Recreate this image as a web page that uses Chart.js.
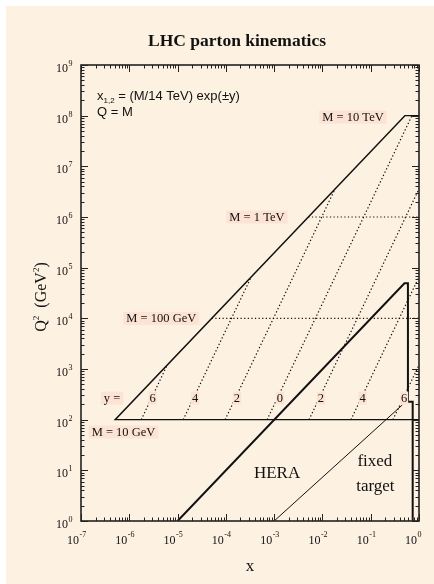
<!DOCTYPE html>
<html>
<head>
<meta charset="utf-8">
<script src="https://cdn.jsdelivr.net/npm/chart.js@4.4.0/dist/chart.umd.min.js"></script>
<style>
  html, body { margin: 0; padding: 0; background: #fff; }
  canvas { display: block; }
</style>
</head>
<body>
<canvas id="kin" width="434" height="584"></canvas>
<script>
// tick decades
const xTickExps = [-7, -6, -5, -4, -3, -2, -1, 0];
const yTickExps = [0, 1, 2, 3, 4, 5, 6, 7, 8, 9];

// LHC region outline (x, Q^2)
const lhcEdgeX  = [1, 5.1e-7, 0.51, 1];
const lhcEdgeQ2 = [100, 100, 1e8, 1e8];

// lines of constant rapidity y, all start at Q^2 = 100
const rapidityNames  = ['6', '4', '2', '0', '2', '4', '6'];
const rapidityStartX = [1.77e-6, 1.31e-5, 9.66e-5, 7.14e-4, 5.28e-3, 0.039, 0.288];
const rapidityEndX   = [6.1e-6, 3.35e-4, 0.0183, 0.714, 1, 1, 1];
const rapidityEndQ2  = [1.2e3, 6.57e4, 3.59e6, 1e8, 3.59e6, 6.57e4, 1.2e3];

// M = 100 GeV and M = 1 TeV levels
const massLevelQ2     = [1e4, 1e6];
const massLevelStartX = [5.1e-5, 5.1e-3];

// HERA region outline
const heraX  = [1e-5, 0.5, 0.59, 0.59, 0.74, 0.74];
const heraQ2 = [1, 4.9e4, 4.9e4, 225, 225, 1];

// fixed target edge
const fixedX  = [1e-3, 0.45];
const fixedQ2 = [1, 195];

const cream = '#fdf1e1';
const pink = '#fce3d4';
const ink = '#111';
const serif = '"Liberation Serif", "Times New Roman", serif';
const sans = '"Liberation Sans", Arial, sans-serif';

const pts = (xs, qs) => xs.map((x, i) => ({ x: x, y: qs[i] }));

const datasets = [];
datasets.push({ data: pts(lhcEdgeX, lhcEdgeQ2), borderColor: ink, borderWidth: 1.4 });
rapidityStartX.forEach((x0, i) => {
  datasets.push({
    data: pts([x0, rapidityEndX[i]], [100, rapidityEndQ2[i]]),
    borderColor: ink, borderWidth: 1.2, borderDash: [1.2, 2.4]
  });
});
massLevelQ2.forEach((q, i) => {
  datasets.push({
    data: pts([massLevelStartX[i], 1], [q, q]),
    borderColor: ink, borderWidth: 1.2, borderDash: [1.2, 2.4]
  });
});
datasets.push({ data: pts(heraX, heraQ2), borderColor: ink, borderWidth: 2 });
datasets.push({ data: pts(fixedX, fixedQ2), borderColor: ink, borderWidth: 1 });
datasets.forEach(d => { d.showLine = true; d.pointRadius = 0; d.fill = false; });

// labels placed in data coordinates
const notes = [
  { text: 'M = 10 TeV', x: 0.043, q: 9.4e7, pad: 3 },
  { text: 'M = 1 TeV', x: 4.4e-4, q: 1e6, pad: 3 },
  { text: 'M = 100 GeV', x: 4.6e-6, q: 1e4, pad: 3 },
  { text: 'M = 10 GeV', x: 7.6e-7, q: 57, pad: 3 },
  { text: 'y =', x: 4.4e-7, q: 267, pad: 3 },
  { text: 'HERA', x: 1.15e-3, q: 8.9, size: 17 },
  { text: 'fixed', x: 0.122, q: 15.3, size: 17 },
  { text: 'target', x: 0.125, q: 4.9, size: 17 }
];
const rapidityLabelX = [3.05e-6, 2.3e-5, 1.7e-4, 1.32e-3, 9.3e-3, 0.068, 0.49];
rapidityNames.forEach((t, i) => notes.push({ text: t, x: rapidityLabelX[i], q: 267, pad: 1 }));

function pow10(c, exp, x, y, base, sup, dy) {
  c.font = base + 'px ' + serif;
  c.textAlign = 'right';
  c.fillText('10', x, y);
  c.font = sup + 'px ' + serif;
  c.textAlign = 'left';
  c.fillText(exp, x + 0.5, y - dy);
}

const paper = {
  id: 'paper',
  beforeDraw(chart) {
    const c = chart.ctx;
    c.save();
    c.fillStyle = '#fff';
    c.fillRect(0, 0, chart.width, chart.height);
    c.fillStyle = cream;
    c.fillRect(6, 6, chart.width - 6, chart.height - 6);
    c.restore();
  },
  afterDatasetsDraw(chart) {
    const c = chart.ctx, a = chart.chartArea;
    const sx = chart.scales.x, sy = chart.scales.y;
    c.save();
    c.fillStyle = ink;
    c.strokeStyle = '#222';
    c.lineWidth = 1;
    c.textBaseline = 'alphabetic';

    // label boxes and texts
    notes.forEach(n => {
      const px = sx.getPixelForValue(n.x), py = sy.getPixelForValue(n.q);
      const size = n.size || 12.5;
      c.font = size + 'px ' + serif;
      const w = c.measureText(n.text).width;
      if (n.pad !== undefined) {
        c.fillStyle = pink;
        c.fillRect(px - w / 2 - n.pad, py - 6.5, w + 2 * n.pad, 13);
      }
      c.fillStyle = ink;
      c.textAlign = 'center';
      c.textBaseline = 'middle';
      c.fillText(n.text, px, py + 0.5);
    });
    c.textBaseline = 'alphabetic';

    // formula
    c.font = '13px ' + sans;
    c.textAlign = 'left';
    let fx = a.left + 16;
    c.fillText('x', fx, 100);
    fx += c.measureText('x').width;
    c.font = '8px ' + sans;
    c.fillText('1,2', fx, 103);
    fx += c.measureText('1,2').width;
    c.font = '13px ' + sans;
    c.fillText(' = (M/14 TeV) exp(\u00b1y)', fx, 100);
    c.fillText('Q = M', a.left + 16, 116);

    // frame
    c.lineWidth = 1.6;
    c.strokeRect(a.left, a.top, a.right - a.left, a.bottom - a.top);

    // tick marks, inward on all sides
    c.lineWidth = 1;
    c.beginPath();
    xTickExps.forEach(e => {
      for (let k = 1; k <= 9; k++) {
        const v = k * Math.pow(10, e);
        if (v > 1.0001) break;
        const px = Math.round(sx.getPixelForValue(v)) + 0.5;
        const len = k === 1 ? 7 : 3.5;
        c.moveTo(px, a.bottom); c.lineTo(px, a.bottom - len);
        c.moveTo(px, a.top); c.lineTo(px, a.top + len);
      }
    });
    yTickExps.forEach(e => {
      for (let k = 1; k <= 9; k++) {
        const v = k * Math.pow(10, e);
        if (v > 1.0001e9) break;
        const py = Math.round(sy.getPixelForValue(v)) + 0.5;
        const len = k === 1 ? 7 : 3.5;
        c.moveTo(a.left, py); c.lineTo(a.left + len, py);
        c.moveTo(a.right, py); c.lineTo(a.right - len, py);
      }
    });
    c.stroke();

    // tick labels
    c.fillStyle = ink;
    xTickExps.forEach(e => {
      const px = sx.getPixelForValue(Math.pow(10, e));
      pow10(c, String(e), px - 2, 544, 12, 8, 7);
    });
    yTickExps.forEach(e => {
      const py = sy.getPixelForValue(Math.pow(10, e));
      pow10(c, String(e), a.left - 13, py + 7, 12, 8, 6);
    });

    // title
    c.font = 'bold 17.5px ' + serif;
    c.textAlign = 'center';
    c.fillText('LHC parton kinematics', 237, 46);

    // axis titles
    c.font = '17px ' + serif;
    c.fillText('x', (a.left + a.right) / 2, 571);

    c.translate(46, 297);
    c.rotate(-Math.PI / 2);
    const parts = [['Q', 16, 0], ['2', 9, 7], ['  (GeV', 16, 0], ['2', 9, 7], [')', 16, 0]];
    let total = 0;
    parts.forEach(p => { c.font = p[1] + 'px ' + serif; total += c.measureText(p[0]).width; });
    let tx = -total / 2;
    c.textAlign = 'left';
    parts.forEach(p => {
      c.font = p[1] + 'px ' + serif;
      c.fillText(p[0], tx, -p[2]);
      tx += c.measureText(p[0]).width;
    });
    c.restore();
  }
};

new Chart(document.getElementById('kin'), {
  type: 'scatter',
  data: { datasets: datasets },
  plugins: [paper],
  options: {
    responsive: false,
    devicePixelRatio: 1,
    animation: false,
    layout: { padding: { left: 81, right: 15, top: 65, bottom: 63 } },
    plugins: { legend: { display: false }, tooltip: { enabled: false }, title: { display: false } },
    scales: {
      x: { type: 'logarithmic', min: 1e-7, max: 1, display: false },
      y: { type: 'logarithmic', min: 1, max: 1e9, display: false }
    }
  }
});
</script>
</body>
</html>
